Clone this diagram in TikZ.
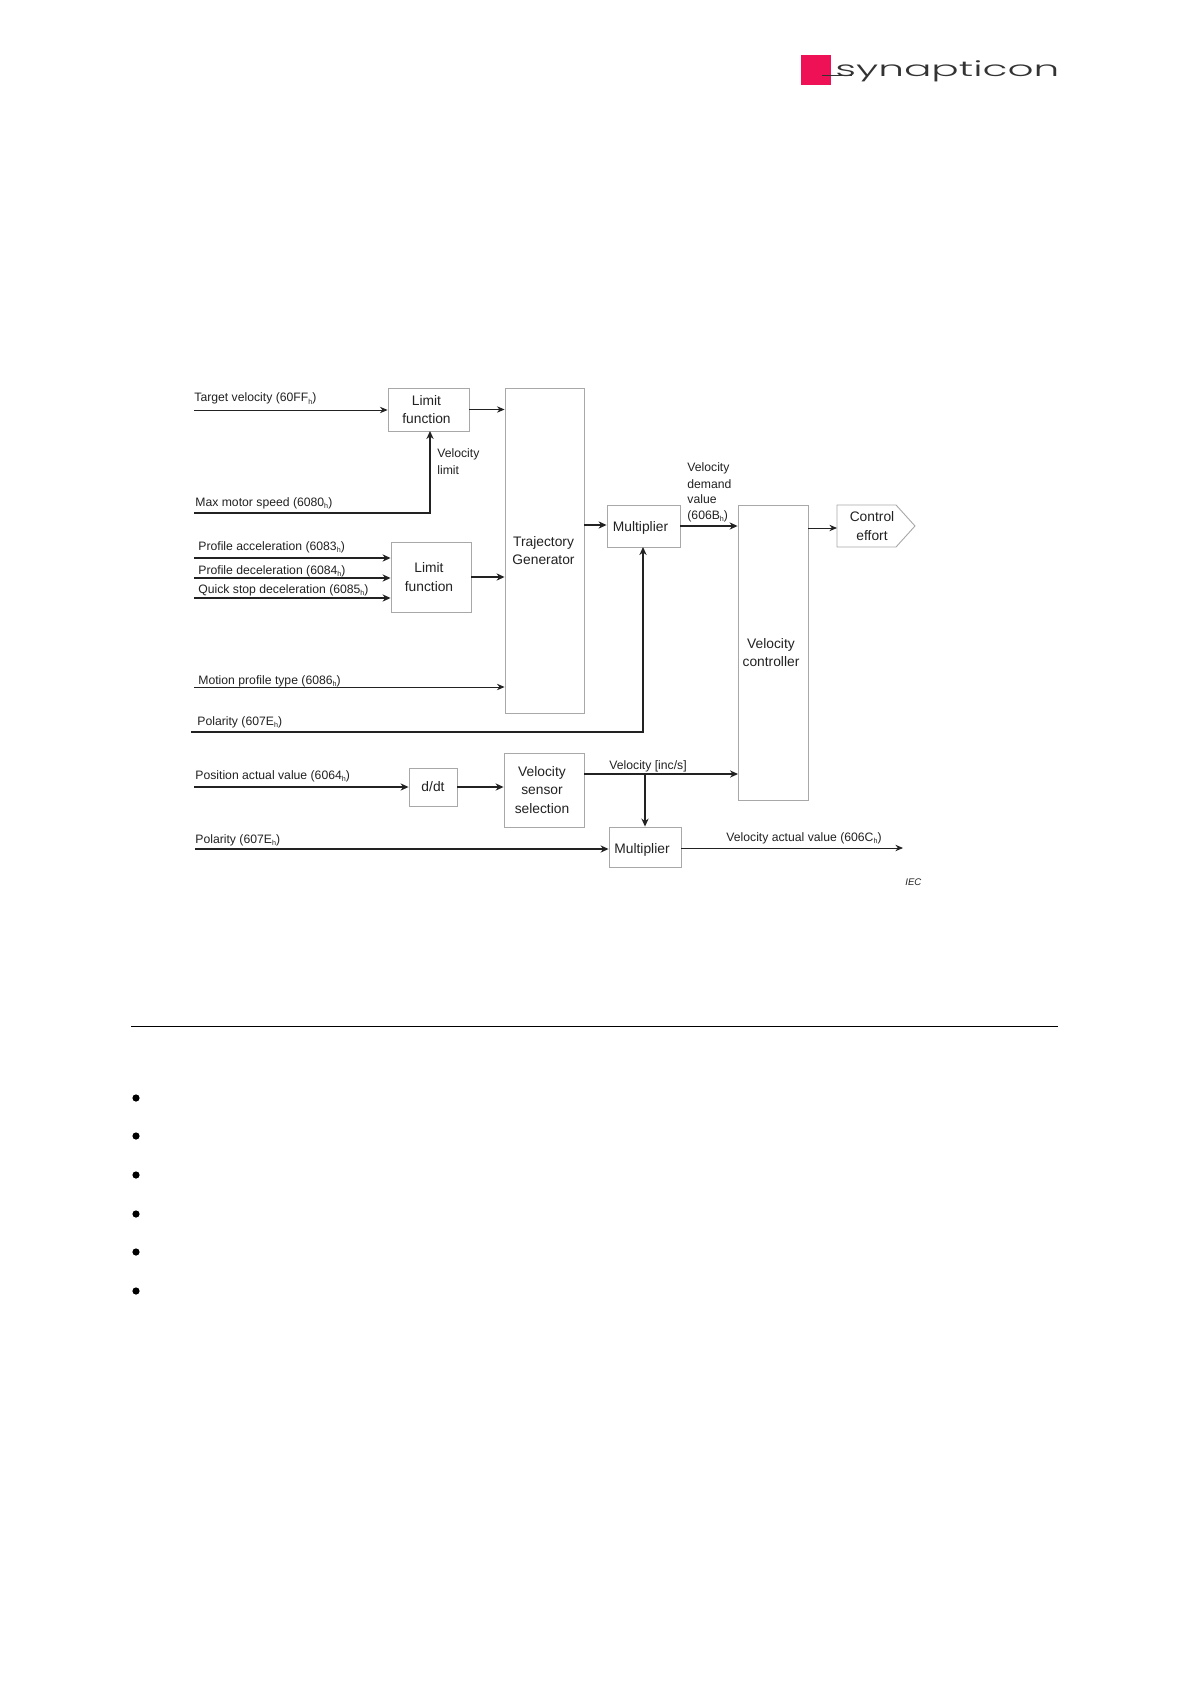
\documentclass[tikz,border=0pt]{standalone}
\usepackage{fontspec}
\setmainfont{Liberation Sans}
\newfontfamily\logofont{Poppins Light}
\usetikzlibrary{arrows.meta}
\definecolor{ink}{HTML}{222222}
\definecolor{edge}{HTML}{A8A8A8}
\definecolor{logored}{HTML}{EE1155}
\definecolor{logoink}{HTML}{333333}
\newcommand{\hsub}{\raisebox{-0.45ex}{\fontsize{3.6}{4}\selectfont h}}
\newcommand{\lft}[1]{\kern#1pt}
\tikzset{
  blockbox/.style={draw=edge,line width=0.45pt,fill=white,inner sep=0pt,align=center,text=ink,
    font=\fontsize{6.9}{9.2}\selectfont},
  siglabel/.style={anchor=base west,inner sep=0pt,text=ink,font=\fontsize{6.1}{8}\selectfont},
  thinwire/.style={draw=ink,line width=0.45pt,-{Stealth[length=3.8pt,width=3.2pt]}},
  thickwire/.style={draw=ink,line width=0.8pt,-{Stealth[length=4pt,width=3.6pt]}},
  bulletdot/.style={circle,fill=black,inner sep=0pt,minimum size=3.6pt},
}
\begin{document}
\begin{tikzpicture}[x=0.5pt,y=-0.5pt]
\useasboundingbox (0,0) rectangle (1190,1684);
\fill[white] (0,0) rectangle (1190,1684);

% logo
\fill[logored] (801,55) rectangle (831,85);
\draw[logoink,line width=0.5pt] (822,76) -- (852,76);
\node[anchor=base west,inner sep=0pt,text=logoink] (logo) at (835,77)
  {\resizebox{112pt}{\height}{\logofont\fontsize{10.5}{12}\selectfont synapticon}};

% blocks
\node[blockbox,minimum width=40.5pt,minimum height=21.5pt] (lim1) at (428.5,409.5) {Limit\lft{2}\\function\lft{2}};
\node[blockbox,minimum width=40pt,minimum height=35pt] (lim2) at (431,577) {Limit\lft{2}\\function\lft{2}};
\node[blockbox,minimum width=39.5pt,minimum height=162.5pt] (tg) at (544.5,550.5) {Trajectory\lft{1}\\Generator\lft{1}};
\node[blockbox,minimum width=36.5pt,minimum height=21pt] (mul1) at (643.5,526) {\raisebox{-1.1pt}[\height][\depth]{Multiplier}\lft{3}};
\node[blockbox,minimum width=36pt,minimum height=20pt] (mul2) at (645,847) {\raisebox{-1.6pt}[\height][\depth]{Multiplier}\lft{3}};
\node[blockbox,minimum width=35pt,minimum height=147.5pt] (vc) at (773,652.5) {Velocity\lft{2}\\controller\lft{2}};
\node[blockbox,minimum width=24pt,minimum height=19pt] (ddt) at (433,787) {d/dt};
\node[blockbox,minimum width=40pt,minimum height=37pt] (vss) at (544,790) {Velocity\lft{2}\\sensor\lft{2}\\selection\lft{2}};
\draw[draw=edge,line width=0.45pt] (837,505) -- (896,505) -- (915,526) -- (896,547) -- (837,547) -- cycle;
\node[blockbox,draw=none,fill=none,minimum width=35pt,minimum height=21pt] (ce) at (872,526) {Control\\effort};

% free ends
\coordinate (sTarget) at (194,410);
\coordinate (sMax) at (194,513);
\coordinate (sAcc) at (194,558);
\coordinate (sDec) at (194,578);
\coordinate (sQuick) at (194,598);
\coordinate (sMotion) at (194,687);
\coordinate (sPol) at (191,732);
\coordinate (sPos) at (194,787);
\coordinate (sPolB) at (195,849);
\coordinate (eOut) at (903,848);
\coordinate (branch) at (645,774);

% connectors
\draw[thinwire] (sTarget) -- (sTarget -| lim1.west);
\draw[thinwire] (lim1.east) -- (lim1.east -| tg.west);
\draw[thickwire] (sMax) -- (430,513) -- (430,431);
\draw[thickwire] (sAcc) -- (sAcc -| lim2.west);
\draw[thickwire] (sDec) -- (sDec -| lim2.west);
\draw[thickwire] (sQuick) -- (sQuick -| lim2.west);
\draw[thickwire] (lim2.east) -- (lim2.east -| tg.west);
\draw[thinwire] (sMotion) -- (sMotion -| tg.west);
\draw[thickwire] (sPol) -- (643,732) -- (643,547);
\draw[thickwire] (sPos) -- (sPos -| ddt.west);
\draw[thickwire] (ddt.east) -- (ddt.east -| vss.west);
\draw[thickwire] (sPolB) -- (sPolB -| mul2.west);
\draw[thickwire] (584,525) -- (mul1.west |- 0,525);
\draw[thickwire] (mul1.east) -- (mul1.east -| vc.west);
\draw[thinwire] (808,528) -- (837,528);
\draw[thickwire] (584,774) -- (738,774);
\draw[thickwire] (branch) -- (branch |- mul2.north);
\draw[thinwire] (681,848) -- (eOut);

% labels
\node[siglabel] (t1) at (194,402) {Target velocity (60FF\hsub)};
\node[siglabel] (t2) at (195,506) {Max motor speed (6080\hsub)};
\node[siglabel] (t3) at (198,550) {Profile acceleration (6083\hsub)};
\node[siglabel] (t4) at (198,574) {Profile deceleration (6084\hsub)};
\node[siglabel] (t5) at (198,593) {Quick stop deceleration (6085\hsub)};
\node[siglabel] (t6) at (198,684) {Motion profile type (6086\hsub)};
\node[siglabel] (t7) at (197,725) {Polarity (607E\hsub)};
\node[siglabel] (t8) at (195,779) {Position actual value (6064\hsub)};
\node[siglabel] (t9) at (195,843) {Polarity (607E\hsub)};
\node[siglabel] (t10) at (437,458) {Velocity};
\node[siglabel] (t11) at (437,474) {limit};
\node[siglabel] (t12) at (687,472) {Velocity};
\node[siglabel] (t13) at (687,488) {demand};
\node[siglabel] (t14) at (687,503) {value};
\node[siglabel] (t15) at (687,519) {(606B\hsub)};
\node[siglabel] (t16) at (609,769) {Velocity [inc/s]};
\node[siglabel] (t17) at (726,841) {Velocity actual value (606C\hsub)};
\node[siglabel,font=\fontsize{4.8}{6}\itshape\selectfont] (t18) at (905,885) {IEC};

% lower part of the page
\draw[black,line width=0.5pt] (131,1026) -- (1058,1026);
\node[bulletdot] (b1) at (136,1098) {};
\node[bulletdot] (b2) at (136,1136) {};
\node[bulletdot] (b3) at (136,1175) {};
\node[bulletdot] (b4) at (136,1214) {};
\node[bulletdot] (b5) at (136,1252) {};
\node[bulletdot] (b6) at (136,1291) {};
\end{tikzpicture}
\end{document}
